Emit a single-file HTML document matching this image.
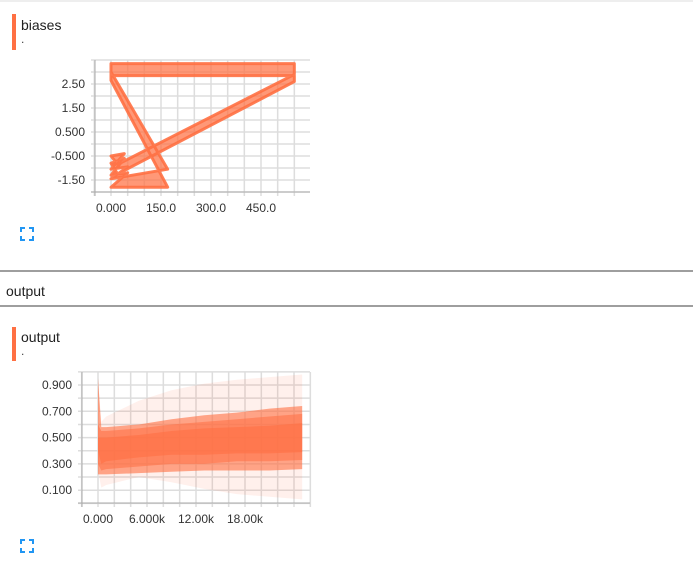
<!DOCTYPE html>
<html><head><meta charset="utf-8"><style>
body{margin:0;width:693px;height:567px;background:#fff;font-family:"Liberation Sans",sans-serif;position:relative;overflow:hidden}
.abs{position:absolute}
.bar{position:absolute;width:4px;background:#ff7043}
.t{position:absolute;font-size:14px;color:#212121}
.dot{position:absolute;font-size:12px;color:#444}
svg text{font-family:"Liberation Sans",sans-serif;font-size:12px;fill:#333}
</style></head><body>
<div class="abs" style="left:0;top:0;width:693px;height:2px;background:#eee"></div>
<div class="bar" style="left:12px;top:14px;height:36px"></div>
<div class="t" style="left:21px;top:17px">biases</div>
<div class="dot" style="left:21px;top:32px">.</div>
<svg class="abs" style="left:0;top:0" width="693" height="567">
<g id="c1"></g>
<g id="c2"></g>
</svg>
<div class="abs" style="left:20px;top:227px;width:14px;height:14px">
<svg width="14" height="14"><path d="M1 5V1H5M9 1H13V5M13 9V13H9M5 13H1V9" fill="none" stroke="#2196f3" stroke-width="2"/></svg></div>
<div class="abs" style="left:0;top:270px;width:693px;height:2px;background:#9e9e9e"></div>
<div class="t" style="left:6px;top:283px">output</div>
<div class="abs" style="left:0;top:305px;width:693px;height:2px;background:#9e9e9e"></div>
<div class="bar" style="left:12px;top:327px;height:34px"></div>
<div class="t" style="left:21px;top:329px">output</div>
<div class="dot" style="left:21px;top:344px">.</div>
<div class="abs" style="left:20px;top:539px;width:14px;height:14px">
<svg width="14" height="14"><path d="M1 5V1H5M9 1H13V5M13 9V13H9M5 13H1V9" fill="none" stroke="#2196f3" stroke-width="2"/></svg></div>
<script>
// biases data
const bSteps=[0,550,550,20,0,40,0,50,0,170,0];
const bLo=[2.85,2.85,2.6,-1.25,-0.8,-0.6,-1.3,-1.2,-1.8,-1.8,2.65];
const bHi=[3.35,3.35,2.9,-0.85,-0.5,-0.4,-1.05,-0.95,-1.45,-1.05,3.0];
const bXTicks=[0,150,300,450];
const bXLabels=["0.000","150.0","300.0","450.0"];
const bYTicks=[2.5,1.5,0.5,-0.5,-1.5];
const bYLabels=["2.50","1.50","0.500","-0.500","-1.50"];
// output data
const oSteps=[0,400,1000,5000,9000,13000,17000,21000,25000];
const oP0=[0.25,0.12,0.14,0.2,0.16,0.11,0.07,0.05,0.03];
const oP1=[0.22,0.22,0.22,0.23,0.24,0.25,0.25,0.25,0.26];
const oP2=[0.3,0.25,0.26,0.28,0.3,0.3,0.32,0.32,0.33];
const oP3=[0.4,0.3,0.32,0.35,0.37,0.37,0.38,0.38,0.39];
const oP4=[0.45,0.45,0.45,0.47,0.47,0.48,0.49,0.49,0.5];
const oP5=[0.5,0.5,0.5,0.52,0.55,0.57,0.58,0.59,0.61];
const oP6=[0.6,0.55,0.55,0.57,0.6,0.62,0.64,0.66,0.68];
const oP7=[0.95,0.58,0.58,0.6,0.64,0.67,0.69,0.72,0.74];
const oP8=[0.95,0.62,0.66,0.78,0.86,0.91,0.94,0.96,0.98];
const oXTicks=[0,6000,12000,18000];
const oXLabels=["0.000","6.000k","12.00k","18.00k"];
const oYTicks=[0.9,0.7,0.5,0.3,0.1];
const oYLabels=["0.900","0.700","0.500","0.300","0.100"];

const NS="http://www.w3.org/2000/svg";
function mk(p,tag,at){const e=document.createElementNS(NS,tag);for(const k in at)e.setAttribute(k,at[k]);p.appendChild(e);return e;}
function grid(g,L,R,T,B,xs,ys,xstep,ystep,x0,y0){
  for(let v=x0;xs(v)<=R+0.5;v+=xstep){const x=xs(v);const l=mk(g,'line',{x1:x,x2:x,y1:T,y2:B+4,stroke:'#ddd','stroke-width':1.5});
    }
  for(let v=y0;ys(v)>=T-0.5;v+=ystep){const y=ys(v);const l=mk(g,'line',{x1:L-4,x2:R,y1:y,y2:y,stroke:'#ddd','stroke-width':1.5});
    }
  const a=mk(g,'line',{x1:L,x2:L,y1:T,y2:B+4,stroke:'#aaa'});
  const b=mk(g,'line',{x1:L-4,x2:R,y1:B,y2:B,stroke:'#aaa'});
}
function labels(g,xs,ys,xt,xl,yt,yl,L,B){
  xt.forEach((v,i)=>{const t=mk(g,'text',{x:xs(v),y:B+20,'text-anchor':'middle'});t.textContent=xl[i];
    });
  yt.forEach((v,i)=>{const t=mk(g,'text',{x:L-10,y:ys(v)+4,'text-anchor':'end'});t.textContent=yl[i];
    });
}
// chart 1
(function(){
  const g=document.getElementById('c1');
  const L=95,R=310,T=60,B=192;
  const xs=v=>111+v*(50/150);const ys=v=>84-(v-2.5)*24;
  grid(g,L,R,T,B,xs,ys,50,0.5,-50,-2);
  labels(g,xs,ys,bXTicks,bXLabels,bYTicks,bYLabels,L,B);
  let d='';bSteps.forEach((s,i)=>{d+=(i?'L':'M')+xs(s)+' '+ys(bHi[i]);});
  for(let i=bSteps.length-1;i>=0;i--)d+='L'+xs(bSteps[i])+' '+ys(bLo[i]);
  const p=mk(g,'path',{d:d+'Z',fill:'#ff7043','fill-opacity':0.72,stroke:'#ff7043','stroke-width':3,'stroke-opacity':0.9,'stroke-linejoin':'round'});
  
})();
// chart 2
(function(){
  const g=document.getElementById('c2');
  const L=82,R=310,T=372,B=503;
  const xs=v=>98+v*(49/6000);const ys=v=>385-(v-0.9)*(26.3/0.2);
  grid(g,L,R,T,B,xs,ys,2000,0.1,-2000,0);
  labels(g,xs,ys,oXTicks,oXLabels,oYTicks,oYLabels,L,B);
  const ps=[oP0,oP1,oP2,oP3,oP4,oP5,oP6,oP7,oP8];
  const ops=[0.1,0.6,0.55,0.6];
  for(let k=0;k<4;k++){
    const lo=ps[k],hi=ps[8-k];
    let d='';oSteps.forEach((s,i)=>{d+=(i?'L':'M')+xs(s)+' '+ys(hi[i]);});
    for(let i=oSteps.length-1;i>=0;i--)d+='L'+xs(oSteps[i])+' '+ys(lo[i]);
    const p=mk(g,'path',{d:d+'Z',fill:'#ff7043','fill-opacity':ops[k],stroke:'none'});
    
  }
})();
</script>
</body></html>
